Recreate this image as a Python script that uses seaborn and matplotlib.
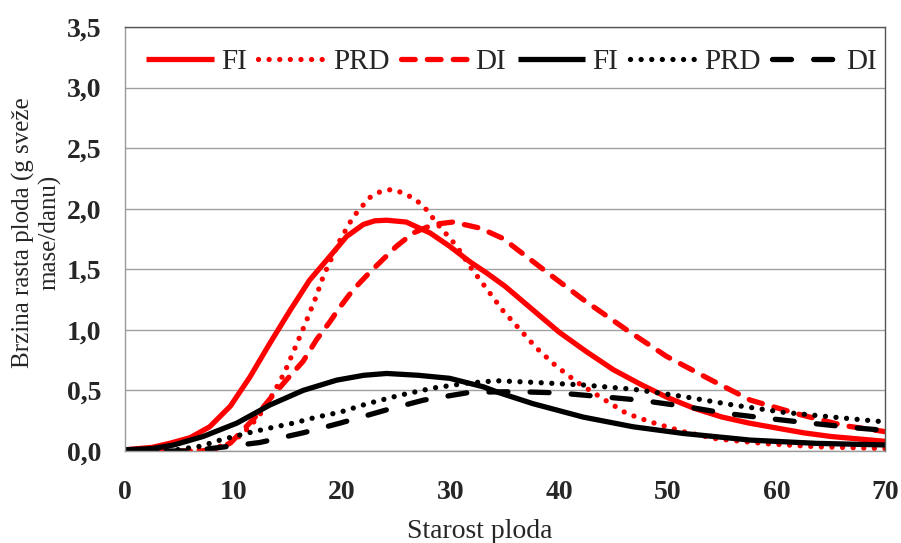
import matplotlib
matplotlib.use("Agg")
import matplotlib.pyplot as plt
import seaborn as sns
import numpy as np
import pandas as pd
from matplotlib.ticker import FuncFormatter

# ---- data ----
red_fi_x = [0, 2.5, 4.1, 6.0, 7.8, 9.7, 11.5, 13.35, 15.2, 17.0, 18.9, 20.4, 21.95,
            23.0, 24.1, 25.9, 28.1, 29.9, 31.8, 33.3, 35, 37.5, 40, 42.5, 45, 47.5, 50,
            52.5, 55, 57.5, 60, 62.5, 65, 67.5, 70]
red_fi_y = [0.01, 0.03, 0.063, 0.11, 0.20, 0.37, 0.61, 0.89, 1.16, 1.41, 1.61, 1.77,
            1.87, 1.90, 1.905, 1.89, 1.80, 1.69, 1.56, 1.47, 1.36, 1.17, 0.98, 0.82, 0.67,
            0.55, 0.44, 0.35, 0.28, 0.23, 0.19, 0.15, 0.12, 0.10, 0.08]

red_prd_x = [0, 5, 7, 8.5, 10, 11.5, 12.5, 13.66, 14.7, 15.66, 16.6, 17.5, 18.3,
             19.8, 21.0, 22.5, 23.5, 24.6, 25.6, 26.7, 27.6, 28.3, 29.0, 29.8, 30.55,
             31.8, 33.3, 34.8, 36.4, 37.9, 39.6, 41.6, 44.4, 46.2, 48.4, 51.4, 54.5,
             59.1, 63.7, 70]
red_prd_y = [0.0, 0.0, 0.01, 0.03, 0.08, 0.20, 0.31, 0.476, 0.65, 0.85, 1.05, 1.25,
             1.45, 1.74, 1.93, 2.09, 2.14, 2.16, 2.13, 2.08, 2.01, 1.93, 1.85, 1.77,
             1.69, 1.52, 1.34, 1.16, 1.0, 0.85, 0.71, 0.57, 0.41, 0.31, 0.24, 0.16,
             0.10, 0.06, 0.035, 0.02]

red_di_x = [0, 5, 7, 8.5, 9.7, 11.8, 13.35, 14.9, 16.4, 17.65, 18.9, 19.65, 21.0,
            22.6, 25.0, 26.55, 28.4, 30.2, 32.7, 34.8, 38.8, 42.2, 46.2, 49.9, 53.9,
            57.6, 62.2, 66.2, 70]
red_di_y = [0.0, 0.0, 0.0, 0.02, 0.065, 0.26, 0.43, 0.59, 0.74, 0.92, 1.07, 1.17,
            1.33, 1.48, 1.69, 1.80, 1.87, 1.89, 1.84, 1.755, 1.48, 1.25, 1.0, 0.78,
            0.59, 0.42, 0.30, 0.21, 0.16]

black_fi_x = [0, 2.5, 4.5, 7.2, 10.3, 13.35, 16.4, 19.5, 22.0, 24.1, 27.0, 29.9,
              33.0, 34.5, 37.6, 42.2, 46.8, 51.4, 57.6, 63.7, 70]
black_fi_y = [0.01, 0.02, 0.05, 0.12, 0.23, 0.38, 0.50, 0.585, 0.625, 0.64, 0.625,
              0.60, 0.53, 0.48, 0.39, 0.28, 0.20, 0.145, 0.09, 0.063, 0.05]

black_prd_x = [0, 4, 5.5, 7, 8.75, 11.2, 13.35, 15.5, 17.65, 19.8, 22.3, 25.3, 28.4,
               31.5, 34.2, 37.6, 42.2, 46.8, 51.4, 56.0, 60.6, 65.2, 70]
black_prd_y = [0.0, 0.0, 0.02, 0.04, 0.09, 0.146, 0.19, 0.23, 0.28, 0.32, 0.39, 0.46,
               0.52, 0.56, 0.58, 0.567, 0.545, 0.51, 0.45, 0.38, 0.32, 0.28, 0.24]

black_di_x = [0, 6, 8.8, 12.4, 16.4, 19.8, 24.1, 27.5, 31.8, 36.1, 39.8, 43.7, 47.4,
              51.4, 55.4, 59.1, 63.1, 67.4, 70]
black_di_y = [0.0, 0.0, 0.03, 0.07, 0.15, 0.23, 0.34, 0.42, 0.485, 0.49, 0.48, 0.45,
              0.42, 0.37, 0.31, 0.27, 0.23, 0.19, 0.17]

labels = ["FI", "PRD", "DI", "FI", "PRD", "DI"]
series = [(red_fi_x, red_fi_y), (red_prd_x, red_prd_y), (red_di_x, red_di_y),
          (black_fi_x, black_fi_y), (black_prd_x, black_prd_y), (black_di_x, black_di_y)]

x_ticks = [0, 10, 20, 30, 40, 50, 60, 70]
y_ticks = [0.0, 0.5, 1.0, 1.5, 2.0, 2.5, 3.0, 3.5]

x_label = "Starost ploda"
y_label = "Brzina rasta ploda (g sveže\nmase/danu)"

# ---- styling ----
sns.set_style("white")
plt.rcParams["font.family"] = ["Liberation Serif", "DejaVu Serif"]

colors = ["#FF0000", "#FF0000", "#FF0000", "#000000", "#000000", "#000000"]
styles = ["solid", (0, (0.01, 2.0)), (0, (2.6, 2.3)),
          "solid", (0, (0.01, 2.0)), (0, (3.6, 4.2))]

fig = plt.figure(figsize=(9.01, 5.43), dpi=100)
ax = fig.add_axes([125 / 901, 1 - 451 / 543, 760 / 901, 424 / 543])

for (xs, ys), lab, c, ls in zip(series, labels, colors, styles):
    sns.lineplot(x=xs, y=ys, ax=ax, color=c, linestyle=ls, linewidth=3.8,
                 label=lab, dash_capstyle="round", solid_capstyle="butt",
                 solid_joinstyle="round", sort=False)

ax.set_xlim(0, 70)
ax.set_ylim(0, 3.5)
ax.set_xticks(x_ticks)
ax.set_yticks(y_ticks)
ax.yaxis.set_major_formatter(FuncFormatter(lambda v, p: f"{v:.1f}".replace(".", ",")))
ax.xaxis.set_major_formatter(FuncFormatter(lambda v, p: f"{v:.0f}"))
ax.tick_params(axis="both", length=0, labelsize=20)
ax.tick_params(axis="x", pad=21)
ax.tick_params(axis="y", pad=17)
for t in ax.get_xticklabels() + ax.get_yticklabels():
    t.set_fontweight("bold")

ax.grid(axis="y", color="#A0A0A0", linewidth=1.0)
ax.grid(axis="x", visible=False)
ax.set_axisbelow(True)

for s in ["top", "right"]:
    ax.spines[s].set_color("#555555")
    ax.spines[s].set_linewidth(1.0)
for s in ["left", "bottom"]:
    ax.spines[s].set_color("#999999")
    ax.spines[s].set_linewidth(1.0)

ax.set_xlabel(x_label, fontsize=20)
ax.xaxis.set_label_coords(0.467, -0.205)
ax.xaxis.label.set_va("baseline")

ax.set_ylabel(y_label, fontsize=18, linespacing=1.2)
ax.yaxis.set_label_coords(-0.083, 0.516)

leg = ax.legend(loc="center", bbox_to_anchor=(0.509, 0.917), ncol=6, frameon=False,
                fontsize=21, handlelength=2.3, handletextpad=0.25, columnspacing=0.4,
                borderpad=0.2)

fig.savefig("out.png", dpi=100)
